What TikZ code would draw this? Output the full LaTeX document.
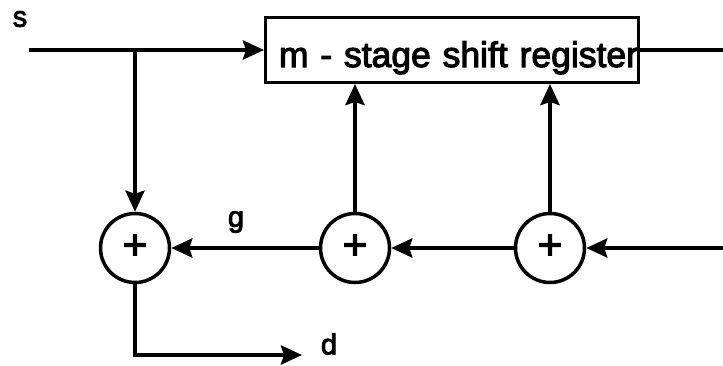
\documentclass[tikz,border=0pt]{standalone}
\usepackage{fontspec}
\setmainfont[FakeBold=3]{Liberation Sans}
\usetikzlibrary{arrows.meta}

\begin{document}
\begin{tikzpicture}[x=1pt, y=-1pt, line width=4pt,
   >={Stealth[length=21pt, width=19pt, inset=3pt]},
   register/.style={draw, line width=3pt, minimum width=373pt, minimum height=65pt, inner xsep=0pt,
      text width=372pt, align=right, text height=40pt, text depth=6pt, font=\fontsize{35.5}{40}\selectfont},
   adder/.style={draw, circle, line width=3.5pt, minimum size=69pt, inner sep=0pt, text height=22pt, text depth=-8pt,
      font=\fontsize{42}{44}\selectfont},
   lbl/.style={inner sep=0pt, font=\fontsize{29}{32}\selectfont},]
   \useasboundingbox (0,0) rectangle (723,366);
   \node[register] (sr) at (452,50) {m - stage shift register};
   \node[adder] (a1) at (135,248) {+};
   \node[adder] (a2) at (355,248) {+};
   \node[adder] (a3) at (550,248) {+};
   \coordinate (in) at (29,50);
   \coordinate (tap) at (135,50);
   \coordinate (out) at (723,50);
   \coordinate (fb) at (723,248);
   \coordinate (dout) at (302,355);
   \node[lbl] (s) at (20,19) {s};
   \node[lbl] (g) at (236,222) {g};
   \node[lbl] (d) at (329,344) {d};

   % register input and output
   \draw[->] (in) -- (sr);
   \draw (sr) -- (out);
   \draw[->] (tap) -- (a1);
   % taps into the register
   \draw[->] (a2) -- (a2 |- sr.south);
   \draw[->] (a3) -- (a3 |- sr.south);
   % adder chain
   \draw[->] (fb) -- (a3);
   \draw[->] (a3) -- (a2);
   \draw[->] (a2) -- (a1);
   \draw[->] (a1) |- (dout);
\end{tikzpicture}
\end{document}
